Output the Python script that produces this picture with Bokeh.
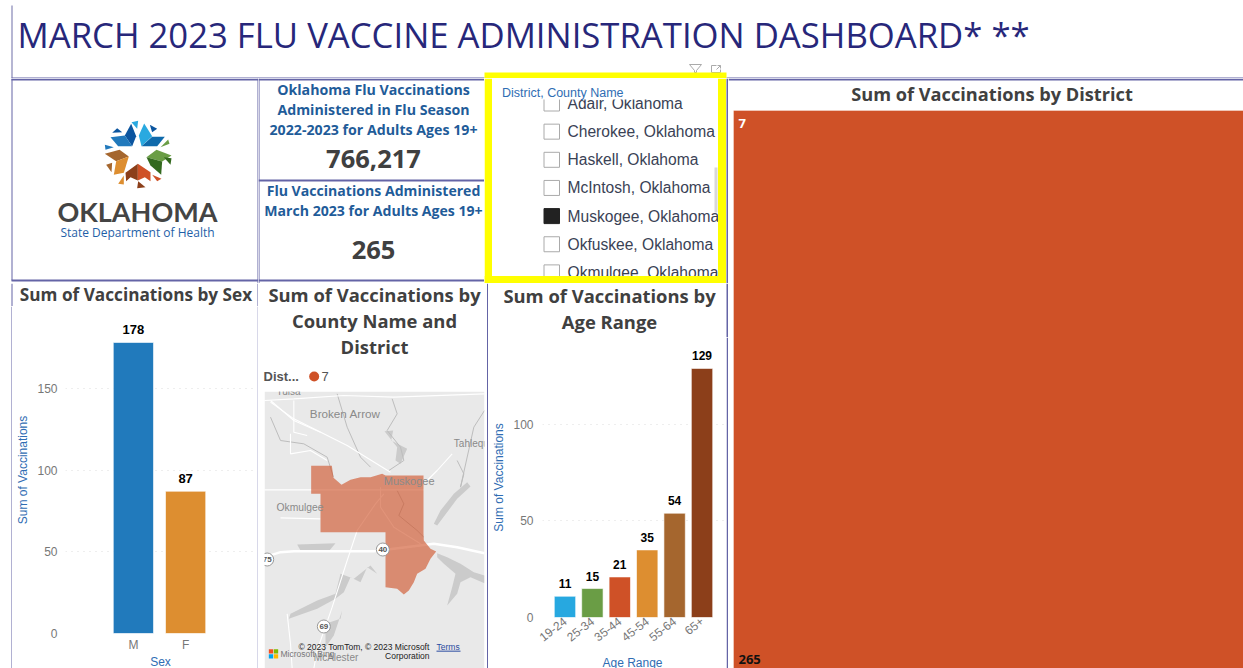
import math
from bokeh.plotting import figure
from bokeh.layouts import column, row
from bokeh.models import Range1d, FactorRange, Label, BoxAnnotation, FixedTicker
from bokeh.core.properties import value
from bokeh.embed import file_html
from bokeh.resources import INLINE

# ---------- data ----------
dashboard_title = "MARCH 2023 FLU VACCINE ADMINISTRATION DASHBOARD* **"
sex_categories = ["M", "F"]
sex_values = [178, 87]
sex_colors = ["#217ABC", "#DD8E30"]
age_categories = ["19-24", "25-34", "35-44", "45-54", "55-64", "65+"]
age_values = [11, 15, 21, 35, 54, 129]
age_colors = ["#27A8E0", "#6A9D45", "#CF5127", "#DD8E30", "#A5662E", "#8C3F1A"]
districts = ["7"]
district_values = [265]
county_names = ["Adair, Oklahoma", "Cherokee, Oklahoma", "Haskell, Oklahoma", "McIntosh, Oklahoma",
                "Muskogee, Oklahoma", "Okfuskee, Oklahoma", "Okmulgee, Oklahoma"]
county_selected = [False, False, False, False, True, False, False]
kpi_total = "766,217"
kpi_march = "265"

# logo pieces (logo sketch coordinates)
logo_colors = ["#0B559F", "#2179BC", "#29A9E0", "#0F6AAB", "#6A9D45", "#33691E", "#8C3F1A", "#CF5127",
               "#A5662E", "#DD8E30", "#29A9E0", "#0B559F", "#0B559F", "#2179BC", "#6A9D45", "#33691E",
               "#A5662E", "#DD8E30", "#8C3F1A", "#CF5127"]
logo_xs = [[88, 107, 122, 110], [45, 88, 110, 68], [130, 146, 170, 138], [170, 208, 185, 138],
           [153, 183, 228, 200], [153, 200, 197, 165], [90, 127, 127, 105, 92], [127, 165, 165, 148, 127],
           [28, 72, 100, 62], [62, 100, 85, 55], [108, 128, 125], [50, 80, 65], [163, 185, 170],
           [28, 55, 30], [195, 218, 222], [205, 228, 225], [32, 50, 48], [68, 85, 85], [128, 150, 125], [170, 198, 185]]
logo_ys = [[60, 25, 62, 92], [65, 60, 92, 92], [60, 24, 62, 92], [64, 64, 92, 92],
           [125, 103, 120, 138], [125, 138, 178, 150], [172, 145, 195, 185, 197], [145, 170, 197, 185, 195],
           [115, 103, 123, 137], [137, 123, 172, 178], [20, 16, 40], [52, 50, 38], [28, 40, 50],
           [88, 95, 103], [95, 72, 85], [125, 128, 148], [148, 142, 170], [205, 180, 207], [197, 215, 218], [178, 190, 197]]

# map sketch (map coordinates)
district_poly_x = [152, 214, 219, 243, 270, 300, 330, 365, 375, 489, 489, 490, 510, 527, 510, 495, 470, 460, 445, 430, 410, 375, 375, 180, 180, 152]
district_poly_y = [316, 316, 352, 373, 358, 350, 350, 340, 345, 345, 520, 540, 565, 573, 595, 625, 640, 665, 690, 702, 685, 680, 515, 515, 400, 400]
road_xs = [[12, 100, 250, 400, 672], [30, 100, 180], [30, 100, 260, 390], [12, 150, 360, 489],
           [370, 345, 290, 260, 215, 170, 160], [360, 360, 400, 480], [500, 530, 575], [100, 100, 140],
           [90, 90, 150, 200], [60, 180], [80, 90, 95]]
road_ys = [[120, 115, 105, 110, 100], [120, 180, 215], [125, 175, 255, 335], [388, 388, 388, 388],
           [400, 430, 510, 600, 740, 870, 924], [380, 440, 500, 550], [360, 330, 280], [120, 215, 225],
           [220, 280, 270, 300], [472, 475], [760, 850, 924]]
highway_x = [12, 60, 100, 340, 520, 590, 672]
highway_y = [590, 575, 572, 572, 550, 560, 578]
lake_xs = [[530, 560, 600, 640, 672, 672, 630, 600, 590, 560, 575, 585, 550, 530],
           [350, 320, 300, 270, 250, 225, 170, 85, 90, 170, 225, 240, 280, 330],
           [110, 225, 205, 120],
           [372, 398, 392, 440, 420, 405, 410],
           [620, 580, 540, 520, 530, 590, 630],
           [195, 240, 245, 220, 195]]
lake_ys = [[578, 590, 610, 635, 645, 668, 650, 665, 700, 735, 680, 640, 610, 590],
           [640, 620, 665, 650, 695, 715, 745, 775, 760, 720, 700, 640, 655, 615],
           [552, 548, 572, 570],
           [212, 210, 240, 265, 310, 300, 260],
           [365, 400, 450, 490, 495, 415, 378],
           [790, 775, 750, 825, 860]]
river_xs = [[395, 410, 380, 420, 430, 385], [590, 610, 600, 640, 672], [230, 260, 300, 330], [30, 60, 130, 200, 219],
            [410, 430, 415, 470, 490]]
river_ys = [[115, 160, 210, 260, 300, 330], [300, 340, 380, 200, 150], [100, 200, 290, 320], [170, 240, 250, 290, 350],
            [390, 430, 465, 510, 530]]
place_names = ["Broken Arrow", "Muskogee", "Okmulgee", "Tahlequah", "Tulsa", "McAlester"]
place_x = [148, 370, 48, 580, 48, 160]
place_y = [158, 360, 440, 248, 93, 890]
place_size = [11.7, 11, 10.3, 10, 10, 10]
shield_x = [367, 190, 20]
shield_y = [567, 798, 597]
shield_text = ["40", "69", "75"]

BORDER = "#6464A6"
TITLE_DARK = "#404040"
BLUE = "#1F5C99"
AXIS_BLUE = "#2F6DB3"
YELLOW = "#FFFF00"
SANS = "Open Sans"
ARIAL = "Liberation Sans"


def mk(x0, y0, x1, y1, frame=None, xr=None, yr=None):
    fx0, fy0, fx1, fy1 = frame or (x0, y0, x1, y1)
    p = figure(width=x1 - x0, height=y1 - y0, output_backend="svg", toolbar_location=None,
               min_border_left=fx0 - x0, min_border_right=x1 - fx1,
               min_border_top=fy0 - y0, min_border_bottom=y1 - fy1,
               x_range=xr if xr is not None else Range1d(fx0, fx1),
               y_range=yr if yr is not None else Range1d(fy1, fy0))
    p.frame_align = False
    p.outline_line_color = None
    p.background_fill_color = "white"
    p.border_fill_color = "white"
    p.grid.visible = False
    p._frame = (fx0, fy0, fx1, fy1)
    if frame is None:
        p.xaxis.visible = False
        p.yaxis.visible = False
    return p


def T(p, x, y, s, size, color="#000000", bold=False, align="center", font=SANS):
    fx0, fy0, fx1, fy1 = p._frame
    p.add_layout(Label(x=x - fx0, y=fy1 - y, x_units="screen", y_units="screen", text=s,
                       text_font=font, text_font_size=f"{size}px", text_color=color,
                       text_font_style="bold" if bold else "normal", text_align=align,
                       text_baseline="middle"))


def B(p, l, t, r, b, color=BORDER):
    fx0, fy0, fx1, fy1 = p._frame
    p.add_layout(BoxAnnotation(left=l - fx0, right=r - fx0, top=fy1 - t, bottom=fy1 - b,
                               left_units="screen", right_units="screen", top_units="screen",
                               bottom_units="screen", fill_color=color, fill_alpha=1,
                               line_color=None))


def style_axes(p, ticks, label_size=12):
    p.yaxis.ticker = FixedTicker(ticks=ticks)
    p.ygrid.visible = True
    p.ygrid.grid_line_color = "#DDDDDD"
    p.ygrid.grid_line_dash = "1 5"
    for ax in (p.xaxis[0], p.yaxis[0]):
        ax.axis_line_color = None
        ax.major_tick_line_color = None
        ax.minor_tick_line_color = None
        ax.major_tick_out = 0
        ax.major_tick_in = 0
        ax.minor_tick_out = 0
        ax.minor_tick_in = 0
        ax.major_label_text_font = ARIAL
        ax.major_label_text_font_size = f"{label_size}px"
        ax.major_label_text_color = "#777777"
        ax.axis_label_text_font = ARIAL
        ax.axis_label_text_font_size = f"{label_size}px"
        ax.axis_label_text_font_style = "normal"
        ax.axis_label_text_color = AXIS_BLUE


def strip(x0, y0, x1, y1, bars):
    p = mk(x0, y0, x1, y1)
    for l, r in bars:
        B(p, l, y0, r, y1)
    return p


# ---------- title strip ----------
title_fig = mk(0, 0, 1243, 78)
T(title_fig, 17, 34, dashboard_title, 34.7, "#27277A", align="left")
B(title_fig, 11, 5, 12, 78, "#6E6EA8")
B(title_fig, 11, 77, 484, 78)
B(title_fig, 726, 77, 1243, 78)
B(title_fig, 484, 72, 726, 78, YELLOW)
title_fig.patch([689, 701, 696, 696, 694, 694], [64, 64, 70, 72, 72, 70], fill_color=None, line_color="#AAAAAA")
title_fig.multi_line([[716, 711, 711, 720, 720], [716, 720], [717, 720, 720]],
                     [[65, 65, 72, 72, 69], [69, 65], [65, 65, 68]], line_color="#AAAAAA", line_width=1)

# ---------- logo ----------
logo_fig = mk(0, 78, 258, 283, xr=Range1d((0 - 95) * 3, (258 - 95) * 3), yr=Range1d((283 - 115) * 3, (78 - 115) * 3))
logo_fig.patches(logo_xs, logo_ys, fill_color=logo_colors, line_color=None)
T(logo_fig, 137, 211, "OKLAHOMA", 27, "#444444", bold=True, font="Lato")
T(logo_fig, 137, 232, "State Department of Health", 12, "#1F5FA8", bold=False)
B(logo_fig, 11, 78, 12, 280)
B(logo_fig, 11, 78, 258, 80)
B(logo_fig, 11, 279, 258, 281)
B(logo_fig, 257, 78, 258, 283)

# ---------- KPI cards ----------
kpi_fig = mk(258, 78, 484, 283)
for yy, s in zip([89, 109, 129], ["Oklahoma Flu Vaccinations", "Administered in Flu Season", "2022-2023 for Adults Ages 19+"]):
    T(kpi_fig, 373, yy, s, 14.2, BLUE, bold=True)
T(kpi_fig, 373, 158, kpi_total, 25.5, TITLE_DARK, bold=True)
for yy, s in zip([190, 210], ["Flu Vaccinations Administered", "March 2023 for Adults Ages 19+"]):
    T(kpi_fig, 373, yy, s, 14.1, BLUE, bold=True)
T(kpi_fig, 373, 249, kpi_march, 25.5, TITLE_DARK, bold=True)
B(kpi_fig, 258, 78, 484, 80)
B(kpi_fig, 258, 179, 484, 181)
B(kpi_fig, 258, 279, 484, 281)
B(kpi_fig, 258, 78, 259, 283)

# ---------- slicer ----------
slicer_fig = mk(484, 78, 728, 283)
row_y = [103 + i * 28.15 for i in range(len(county_names))]
slicer_fig.quad(left=[543.5] * len(row_y), right=[559] * len(row_y),
                top=[y - 7.5 for y in row_y], bottom=[y + 7.5 for y in row_y],
                fill_color=["#222222" if s else "white" for s in county_selected],
                line_color=["#222222" if s else "#AAAAAA" for s in county_selected], line_width=1)
slicer_fig.text(x=[567] * len(row_y), y=row_y, text=county_names, text_font=value(ARIAL),
                text_font_size="15.6px", text_color="#3A4255", text_align="left", text_baseline="middle")
slicer_fig.quad(left=[491], right=[717], top=[78], bottom=[99], fill_color="white", line_color=None)
slicer_fig.quad(left=[714], right=[717], top=[167], bottom=[212], fill_color="#D8D8D8", line_color=None)
slicer_fig.quad(left=[484, 717.5, 484, 726], right=[491.5, 725.5, 725.5, 728],
                top=[78, 78, 275.5, 78], bottom=[283, 283, 283, 283],
                fill_color=[YELLOW, YELLOW, YELLOW, "white"], line_color=None)
T(slicer_fig, 501.5, 92, "District, County Name", 12.5, AXIS_BLUE, align="left", font=ARIAL)
B(slicer_fig, 726, 78, 727.5, 283)

# ---------- sex chart ----------
sex_title = mk(0, 283, 258, 306)
T(sex_title, 135.5, 294, "Sum of Vaccinations by Sex", 17.2, TITLE_DARK, bold=True)
B(sex_title, 11, 283, 12, 306)
B(sex_title, 257, 283, 258, 306)
sex_fig = mk(12, 306, 257, 654, frame=(65, 306, 253, 633),
             xr=FactorRange(*sex_categories, range_padding=0.8, range_padding_units="absolute"),
             yr=Range1d(0, 200))
style_axes(sex_fig, [0, 50, 100, 150])
sex_fig.vbar(x=sex_categories, top=sex_values, width=0.77, fill_color=sex_colors,
             line_color="#FFFFFF", line_alpha=0.6, line_width=1)
sex_fig.text(x=sex_categories, y=sex_values, text=[str(v) for v in sex_values], text_font=value(ARIAL),
             text_font_style="bold", text_font_size="13px", text_align="center", text_baseline="bottom",
             y_offset=-8, text_color="#000000")
sex_fig.yaxis.axis_label = "Sum of Vaccinations"
sex_fig.xaxis.major_label_standoff = 4
sex_fig.yaxis.major_label_standoff = 8
sex_fig.yaxis.axis_label_standoff = 4
sex_label = mk(12, 654, 257, 668)
T(sex_label, 160, 661, "Sex", 12, AXIS_BLUE, font=ARIAL)
sex_panel = column(sex_title,
                   row(strip(0, 306, 12, 668, [(11, 12)]),
                       column(sex_fig, sex_label, spacing=0),
                       strip(257, 306, 258, 668, [(257, 258)]), spacing=0),
                   spacing=0)

# ---------- map ----------
map_fig = mk(258, 283, 488, 668, xr=Range1d(-6, 684), yr=Range1d(924, -231))
map_fig.quad(left=[12], right=[672], top=[93], bottom=[924], fill_color="#E9E9E9", line_color=None)
map_fig.patches(lake_xs, lake_ys, fill_color="#CBCBCB", line_color=None)
map_fig.multi_line(river_xs, river_ys, line_color="#BDBDBD", line_width=1)
map_fig.multi_line(road_xs, road_ys, line_color="#FFFFFF", line_width=1.1)
map_fig.line(highway_x, highway_y, line_color="#FFFFFF", line_width=2.5)
map_fig.patch(district_poly_x, district_poly_y, fill_color="#CF5127", fill_alpha=0.62, line_color=None)
for px, py, pn, ps in zip(place_x, place_y, place_names, place_size):
    map_fig.text(x=[px], y=[py], text=[pn], text_font=value(ARIAL), text_font_size=f"{ps}px",
                 text_color="#8A8A8A", text_align="left", text_baseline="middle")
map_fig.scatter(shield_x, shield_y, size=13, marker="circle", fill_color="#FFFFFF", line_color="#999999")
map_fig.text(x=shield_x, y=shield_y, text=shield_text, text_font=value(ARIAL), text_font_size="8px",
             text_font_style="bold", text_color="#555555", text_align="center", text_baseline="middle")
map_fig.quad(left=[-6, 672, -6], right=[684, 684, 12], top=[-231, -231, -231], bottom=[93, 924, 924],
             fill_color="white", line_color=None)
map_fig.quad(left=[25, 40, 25, 40], right=[38, 53, 38, 53], top=[866, 866, 881, 881], bottom=[879, 879, 894, 894],
             fill_color=["#F25022", "#7FBA00", "#00A4EF", "#FFB900"], line_color=None)
map_fig.text(x=[60], y=[880], text=["Microsoft Bing"], text_font=value(ARIAL), text_font_size="8.5px",
             text_color="#777777", text_align="left", text_baseline="middle")
map_fig.text(x=[507, 507], y=[858, 886], text=["\u00a9 2023 TomTom, \u00a9 2023 Microsoft", "Corporation"],
             text_font=value(ARIAL), text_font_size="8.5px", text_color="#222222", text_align="right",
             text_baseline="middle")
map_fig.text(x=[528], y=[858], text=["Terms"], text_font=value(ARIAL), text_font_size="8.5px",
             text_color="#2A4BA0", text_align="left", text_baseline="middle")
map_fig.line([528, 600], [872, 872], line_color="#2A4BA0", line_width=1)
map_fig.scatter([161], [48], size=10, marker="circle", fill_color="#CF5127", line_color=None)
for yy, s in zip([294, 320, 346], ["Sum of Vaccinations by", "County Name and", "District"]):
    T(map_fig, 374, yy, s, 18.4, TITLE_DARK, bold=True)
T(map_fig, 263, 376, "Dist...", 13, "#555555", bold=True, align="left", font=ARIAL)
T(map_fig, 321, 376, districts[0], 13, "#555555", align="left", font=ARIAL)
B(map_fig, 486.5, 283, 488, 668)

# ---------- age chart ----------
age_title = mk(488, 283, 728, 337)
for yy, s in zip([295, 321], ["Sum of Vaccinations by", "Age Range"]):
    T(age_title, 609, yy, s, 18.4, TITLE_DARK, bold=True)
B(age_title, 726, 283, 727.5, 337)
age_fig = mk(488, 337, 726, 655, frame=(542, 337, 724, 617),
             xr=FactorRange(*age_categories, range_padding=0.32, range_padding_units="absolute"),
             yr=Range1d(0, 145))
style_axes(age_fig, [0, 50, 100])
age_fig.vbar(x=age_categories, top=age_values, width=0.78, fill_color=age_colors,
             line_color="#FFFFFF", line_alpha=0.6, line_width=1)
age_fig.text(x=age_categories, y=age_values, text=[str(v) for v in age_values], text_font=value(ARIAL),
             text_font_style="bold", text_font_size="12px", text_align="center", text_baseline="bottom",
             y_offset=-8, text_color="#000000")
age_fig.yaxis.axis_label = "Sum of Vaccinations"
age_fig.xaxis.major_label_orientation = math.radians(38)
age_fig.xaxis.major_label_standoff = 2
age_fig.yaxis.major_label_standoff = 9
age_fig.yaxis.axis_label_standoff = 4
age_label = mk(488, 655, 726, 668)
T(age_label, 632, 662, "Age Range", 12, AXIS_BLUE, font=ARIAL)
age_panel = column(age_title,
                   row(column(age_fig, age_label, spacing=0),
                       strip(726, 337, 728, 668, [(726, 727.5)]), spacing=0),
                   spacing=0)

# ---------- treemap ----------
tree_title = mk(728, 78, 1243, 110)
T(tree_title, 991.5, 93.5, "Sum of Vaccinations by District", 18.2, TITLE_DARK, bold=True)
B(tree_title, 728, 78, 1243, 80)
tree_fig = mk(733, 110, 1243, 668, xr=Range1d(0, sum(district_values)), yr=Range1d(0, 1))
tree_fig.quad(left=[0], right=district_values, bottom=[0], top=[1], fill_color="#CF5127",
              line_color="#EBB8A4", line_width=1)
T(tree_fig, 738, 123, districts[0], 13, "#FFFFFF", bold=True, align="left")
T(tree_fig, 738, 659, str(district_values[0]), 13, "#111111", bold=True, align="left")
tree_panel = column(tree_title,
                    row(strip(728, 110, 733, 668, []), tree_fig, spacing=0),
                    spacing=0)

layout = column(title_fig,
                row(column(row(logo_fig, kpi_fig, slicer_fig, spacing=0),
                           row(sex_panel, map_fig, age_panel, spacing=0), spacing=0),
                    tree_panel, spacing=0),
                spacing=0)
open("out.html", "w").write(file_html(layout, INLINE))
